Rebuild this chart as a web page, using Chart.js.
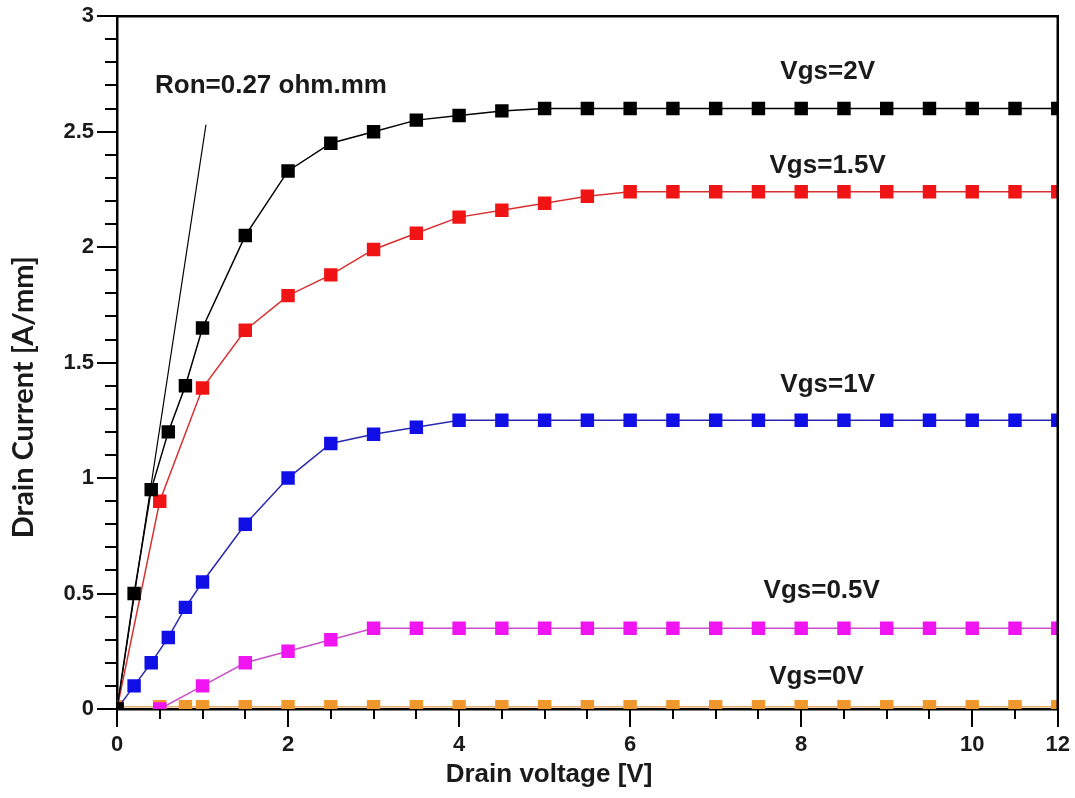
<!DOCTYPE html>
<html>
<head>
<meta charset="utf-8">
<script src="https://cdn.jsdelivr.net/npm/chart.js@4.4.1/dist/chart.umd.min.js"></script>
<style>
  html, body { margin: 0; padding: 0; background: #fff; }
  #wrap { width: 1075px; height: 798px; position: relative; }
</style>
</head>
<body>
<div id="wrap"><canvas id="chart-iv"></canvas></div>
<script>
// drain voltage [V] / drain current [A/mm]
var vgs2V = [0, 0.2, 0.4, 0.6, 0.8, 1, 1.5, 2, 2.5, 3, 3.5, 4, 4.5, 5, 5.5, 6, 6.5, 7, 7.5, 8, 8.5, 9, 9.5, 10, 10.5, 11];
var vgs2I = [0, 0.5, 0.95, 1.2, 1.4, 1.65, 2.05, 2.33, 2.45, 2.5, 2.55, 2.57, 2.59, 2.6, 2.6, 2.6, 2.6, 2.6, 2.6, 2.6, 2.6, 2.6, 2.6, 2.6, 2.6, 2.6];

var vgs15V = [0, 0.5, 1, 1.5, 2, 2.5, 3, 3.5, 4, 4.5, 5, 5.5, 6, 6.5, 7, 7.5, 8, 8.5, 9, 9.5, 10, 10.5, 11];
var vgs15I = [0, 0.9, 1.39, 1.64, 1.79, 1.88, 1.99, 2.06, 2.13, 2.16, 2.19, 2.22, 2.24, 2.24, 2.24, 2.24, 2.24, 2.24, 2.24, 2.24, 2.24, 2.24, 2.24];

var vgs1V = [0, 0.2, 0.4, 0.6, 0.8, 1, 1.5, 2, 2.5, 3, 3.5, 4, 4.5, 5, 5.5, 6, 6.5, 7, 7.5, 8, 8.5, 9, 9.5, 10, 10.5, 11];
var vgs1I = [0, 0.1, 0.2, 0.31, 0.44, 0.55, 0.8, 1.0, 1.15, 1.19, 1.22, 1.25, 1.25, 1.25, 1.25, 1.25, 1.25, 1.25, 1.25, 1.25, 1.25, 1.25, 1.25, 1.25, 1.25, 1.25];

var vgs05V = [0.5, 1, 1.5, 2, 2.5, 3, 3.5, 4, 4.5, 5, 5.5, 6, 6.5, 7, 7.5, 8, 8.5, 9, 9.5, 10, 10.5, 11];
var vgs05I = [0, 0.1, 0.2, 0.25, 0.3, 0.35, 0.35, 0.35, 0.35, 0.35, 0.35, 0.35, 0.35, 0.35, 0.35, 0.35, 0.35, 0.35, 0.35, 0.35, 0.35, 0.35];

var vgs0V = [0, 0.5, 0.8, 1, 1.5, 2, 2.5, 3, 3.5, 4, 4.5, 5, 5.5, 6, 6.5, 7, 7.5, 8, 8.5, 9, 9.5, 10, 10.5, 11];
var vgs0I = [0.01, 0.01, 0.01, 0.01, 0.01, 0.01, 0.01, 0.01, 0.01, 0.01, 0.01, 0.01, 0.01, 0.01, 0.01, 0.01, 0.01, 0.01, 0.01, 0.01, 0.01, 0.01, 0.01, 0.01];

// Ron slope line
var ronV = [0, 1.04];
var ronI = [0, 2.53];

// x axis: the frame ends at 11 V but is labelled "12" in the picture
var xMajorTicks = [0, 2, 4, 6, 8, 10, 11];
var xTickLabels = ["0", "2", "4", "6", "8", "10", "12"];
var yMajorTicks = [0, 0.5, 1, 1.5, 2, 2.5, 3];
var yTickLabels = ["0", "0.5", "1", "1.5", "2", "2.5", "3"];

var xTitle = "Drain voltage [V]";
var yTitle = "Drain Current [A/mm]";

var notes = [
    { text: "Ron=0.27 ohm.mm", x: 1.80, y: 2.70 },
    { text: "Vgs=2V", x: 8.31, y: 2.76 },
    { text: "Vgs=1.5V", x: 8.31, y: 2.35 },
    { text: "Vgs=1V", x: 8.31, y: 1.405 },
    { text: "Vgs=0.5V", x: 8.24, y: 0.51 },
    { text: "Vgs=0V", x: 8.18, y: 0.14 },
];

function pts(xs, ys) {
    return xs.map(function (x, i) { return { x: x, y: ys[i] }; });
}

function findLabel(list, labels, value) {
    for (var i = 0; i < list.length; i++) {
        if (Math.abs(list[i] - value) < 1e-6) return labels[i];
    }
    return "";
}

function series(data, marker, line) {
    return {
        data: data,
        borderColor: line,
        backgroundColor: marker,
        pointBackgroundColor: marker,
        pointBorderColor: marker,
        pointBorderWidth: 0,
        pointStyle: "rect",
        pointRadius: 9.5,
        borderWidth: 1.5,
        tension: 0,
        clip: 0,
    };
}

var framePlugin = {
    id: "frame",
    afterDatasetsDraw: function (chart) {
        var ctx = chart.ctx;
        var area = chart.chartArea;
        var xs = chart.scales.x;
        var ys = chart.scales.y;
        ctx.save();
        ctx.strokeStyle = "#000";
        ctx.lineWidth = 2.5;
        ctx.beginPath();
        ctx.moveTo(area.left, area.top);
        ctx.lineTo(area.right, area.top);
        ctx.lineTo(area.right, area.bottom);
        ctx.stroke();

        ctx.fillStyle = "#1a1a1a";
        ctx.textAlign = "center";
        ctx.textBaseline = "middle";
        ctx.font = "bold 26px 'Liberation Sans', Arial, sans-serif";
        notes.forEach(function (n) {
            ctx.fillText(n.text, xs.getPixelForValue(n.x), ys.getPixelForValue(n.y));
        });

        ctx.font = "bold 26px 'Liberation Sans', Arial, sans-serif";
        ctx.fillText(xTitle, area.left + 432, area.bottom + 66);

        ctx.translate(24, area.top + 381);
        ctx.rotate(-Math.PI / 2);
        ctx.font = "bold 29px Lato, 'Open Sans', sans-serif";
        ctx.fillText(yTitle, 0, 0);
        ctx.restore();
    }
};

var tickFont = { size: 22, weight: "bold", family: "'Liberation Sans', Arial, sans-serif" };

var ctx1 = document.getElementById("chart-iv").getContext("2d");
new Chart(ctx1, {
    type: "line",
    data: {
        datasets: [
            series(pts(vgs2V, vgs2I), "#000000", "#000000"),
            series(pts(vgs15V, vgs15I), "#f01414", "#d83030"),
            series(pts(vgs1V, vgs1I), "#1010e6", "#2a2aae"),
            series(pts(vgs05V, vgs05I), "#f014f0", "#c850c8"),
            series(pts(vgs0V, vgs0I), "#f0982e", "#e8b070"),
            {
                data: pts(ronV, ronI),
                borderColor: "#000000",
                borderWidth: 1.2,
                pointRadius: 0,
                tension: 0,
                clip: 0,
            },
        ],
    },
    options: {
        responsive: true,
        maintainAspectRatio: false,
        animation: false,
        layout: { autoPadding: false, padding: { top: 13, right: 17, left: 0, bottom: 0 } },
        plugins: {
            legend: { display: false },
            tooltip: { enabled: false },
        },
        scales: {
            x: {
                type: "linear",
                min: 0,
                max: 11,
                weight: 1,
                afterFit: function (scale) { scale.height = 89; },
                afterBuildTicks: function (scale) {
                    scale.ticks = xMajorTicks.map(function (v) { return { value: v }; });
                },
                border: { display: true, color: "#000", width: 2.5 },
                grid: {
                    display: true,
                    drawOnChartArea: false,
                    drawTicks: true,
                    tickLength: 18,
                    color: "#000",
                    lineWidth: 2,
                },
                ticks: {
                    autoSkip: false,
                    maxRotation: 0,
                    padding: 5,
                    color: "#1a1a1a",
                    font: tickFont,
                    callback: function (value) { return findLabel(xMajorTicks, xTickLabels, value); },
                },
            },
            y: {
                type: "linear",
                min: 0,
                max: 3,
                weight: 1,
                afterFit: function (scale) { scale.width = 117; },
                border: { display: true, color: "#000", width: 2.5 },
                grid: {
                    display: true,
                    drawOnChartArea: false,
                    drawTicks: true,
                    tickLength: 20,
                    color: "#000",
                    lineWidth: 2,
                },
                ticks: {
                    stepSize: 0.5,
                    autoSkip: false,
                    padding: 3,
                    color: "#1a1a1a",
                    font: tickFont,
                    callback: function (value) { return findLabel(yMajorTicks, yTickLabels, value); },
                },
            },
            // minor tick marks, zero-size axes sitting on the frame
            xMinor: {
                type: "linear",
                axis: "x",
                position: "bottom",
                min: 0,
                max: 11,
                weight: 0,
                afterFit: function (scale) { scale.height = 0; },
                border: { display: false },
                grid: {
                    display: true,
                    drawOnChartArea: false,
                    drawTicks: true,
                    tickLength: 10,
                    color: "#000",
                    lineWidth: 2,
                },
                ticks: { display: false, stepSize: 0.5, autoSkip: false },
            },
            yMinor: {
                type: "linear",
                axis: "y",
                position: "left",
                min: 0,
                max: 3,
                weight: 0,
                afterFit: function (scale) { scale.width = 0; },
                border: { display: false },
                grid: {
                    display: true,
                    drawOnChartArea: false,
                    drawTicks: true,
                    tickLength: 12,
                    color: "#000",
                    lineWidth: 2,
                },
                ticks: { display: false, stepSize: 0.1, autoSkip: false },
            },
        },
    },
    plugins: [framePlugin],
});
</script>
</body>
</html>
